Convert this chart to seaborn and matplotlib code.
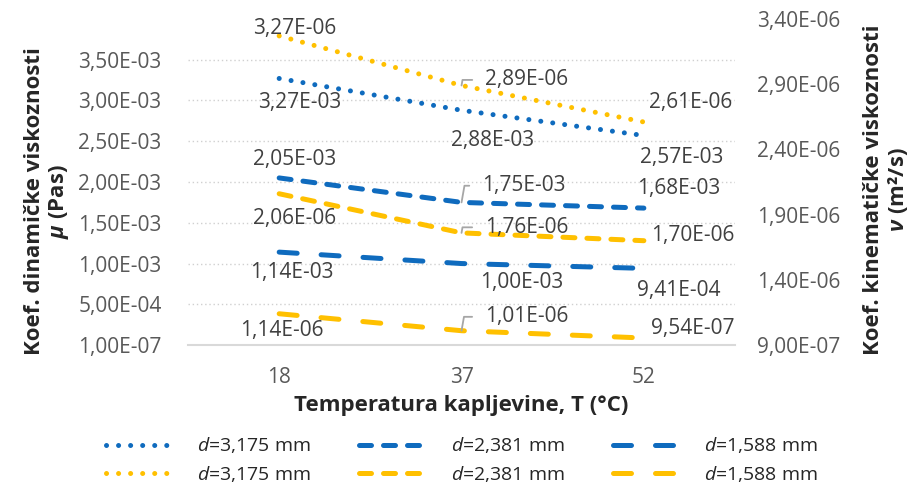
import numpy as np
import seaborn as sns
import matplotlib.pyplot as plt
from matplotlib.ticker import FuncFormatter, FixedLocator

temps = ['18', '37', '52']

# dinamicka viskoznost (lijeva os)
mu_d3175 = [3.27e-3, 2.88e-3, 2.57e-3]
mu_d2381 = [2.05e-3, 1.75e-3, 1.68e-3]
mu_d1588 = [1.14e-3, 1.00e-3, 9.41e-4]

# kinematicka viskoznost (desna os)
nu_d3175 = [3.27e-6, 2.89e-6, 2.61e-6]
nu_d2381 = [2.06e-6, 1.76e-6, 1.70e-6]
nu_d1588 = [1.14e-6, 1.01e-6, 9.54e-7]

legend_labels = ['$d$=3,175 mm', '$d$=2,381 mm', '$d$=1,588 mm']

sns.set_style('white')
plt.rcParams['font.family'] = ['Open Sans', 'DejaVu Sans']
plt.rcParams['mathtext.fontset'] = 'custom'
plt.rcParams['mathtext.rm'] = 'Open Sans'
plt.rcParams['mathtext.it'] = 'Open Sans:italic'
plt.rcParams['mathtext.bf'] = 'Open Sans:bold:italic'

blue = '#0F6BBE'
yellow = '#FFC000'
lw = 3.6
styles = [(0, (0.01, 2.4)), (0, (2.4, 2.4)), (0, (3.6, 4.8))]
fs = 15

fig, ax = plt.subplots(figsize=(9.18, 4.86), dpi=100)
fig.subplots_adjust(left=0.2048, right=0.8007, top=0.961, bottom=0.290)

x = np.arange(len(temps))
for vals, ls, lab in zip([mu_d3175, mu_d2381, mu_d1588], styles, legend_labels):
    sns.lineplot(x=x, y=vals, ax=ax, color=blue, linewidth=lw,
                 linestyle=ls, dash_capstyle='round', solid_capstyle='round',
                 label=lab, legend=False, sort=False)

ax2 = ax.twinx()
for vals, ls, lab in zip([nu_d3175, nu_d2381, nu_d1588], styles, legend_labels):
    sns.lineplot(x=x, y=vals, ax=ax2, color=yellow, linewidth=lw,
                 linestyle=ls, dash_capstyle='round', solid_capstyle='round',
                 label=lab, legend=False, sort=False)

ax.set_xlim(-0.5, 2.5)
ax.set_xticks(x)
ax.set_xticklabels(temps)
ax.set_ylim(1e-7, 4e-3)
ax2.set_ylim(9e-7, 3.4e-6)
ax.yaxis.set_major_locator(FixedLocator(1e-7 + np.arange(8) * 5e-4))
ax2.yaxis.set_major_locator(FixedLocator(9e-7 + np.arange(6) * 5e-7))
fmt = FuncFormatter(lambda v, p: f"{v:.2E}".replace('.', ','))
ax.yaxis.set_major_formatter(fmt)
ax2.yaxis.set_major_formatter(fmt)

ax.yaxis.grid(True, color='#D0D0D0', linestyle=(0, (1, 2)), linewidth=1)
ax.xaxis.grid(False)
ax2.grid(False)
ax.set_axisbelow(True)

for a in (ax, ax2):
    for s in a.spines.values():
        s.set_visible(False)
ax.spines['bottom'].set_visible(True)
ax.spines['bottom'].set_color('#D9D9D9')
ax.spines['bottom'].set_linewidth(1.5)

ax.tick_params(axis='y', length=0, labelsize=fs, labelcolor='#595959', pad=19)
ax2.tick_params(axis='y', length=0, labelsize=fs, labelcolor='#595959', pad=16)
ax.tick_params(axis='x', length=0, labelsize=fs, labelcolor='#595959', pad=16)
ax.set_ylabel('')
ax2.set_ylabel('')
ax.set_xlabel('Temperatura kapljevine, T (°C)', fontsize=16,
              fontweight='bold', labelpad=5)

fig.text(0.052, 0.586, 'Koef. dinamičke viskoznosti\n$\\mathbf{\\mu}$ (Pas)',
         rotation=90, ha='center', va='center', ma='center',
         fontsize=16, fontweight='bold', linespacing=1.1)
fig.text(0.966, 0.609, 'Koef. kinematičke viskoznosti\n$\\mathbf{\\nu}$ (m²/s)',
         rotation=90, ha='center', va='center', ma='center',
         fontsize=16, fontweight='bold', linespacing=1.1)

# pomaci oznaka podataka (tocke)
mu_offsets = [
    [(15, -17), (22, -22), (27, -16)],
    [(11, 13), (45, 12), (25, 14)],
    [(9, -15), (43, -14), (25, -16)],
]
nu_offsets = [
    [(11, 5), (47, 4), (34, 14)],
    [(11, -18), (47, 4), (35, 4)],
    [(2, -12), (47, 10), (35, 7)],
]
leader_mu = [[False, False, False], [False, True, False], [False, False, False]]
leader_nu = [[False, True, False], [False, True, False], [False, True, False]]

def add_labels(a, series, offsets, leaders):
    for vals, offs, leads in zip(series, offsets, leaders):
        for i, (v, off, lead) in enumerate(zip(vals, offs, leads)):
            txt = f"{v:.2E}".replace('.', ',')
            kw = {}
            if lead:
                kw['arrowprops'] = dict(arrowstyle='-', color='#A6A6A6', lw=1.3,
                                        connectionstyle='angle,angleA=0,angleB=80,rad=0',
                                        shrinkA=7, shrinkB=0, relpos=(0, 0.5))
            a.annotate(txt, xy=(i, v), xytext=off, textcoords='offset points',
                       ha='center', va='center', fontsize=fs, color='#404040', **kw)

add_labels(ax, [mu_d3175, mu_d2381, mu_d1588], mu_offsets, leader_mu)
add_labels(ax2, [nu_d3175, nu_d2381, nu_d1588], nu_offsets, leader_nu)

h1, l1 = ax.get_legend_handles_labels()
h2, l2 = ax2.get_legend_handles_labels()
handles = [h1[0], h2[0], h1[1], h2[1], h1[2], h2[2]]
labels = [l1[0], l2[0], l1[1], l2[1], l1[2], l2[2]]
fig.legend(handles, labels, ncol=3, loc='center', bbox_to_anchor=(0.503, 0.054),
           frameon=False, fontsize=14, handlelength=3.3, handletextpad=1.4,
           columnspacing=2.5, labelspacing=0.45, borderpad=0.1)

plt.savefig('out.png', dpi=100)
